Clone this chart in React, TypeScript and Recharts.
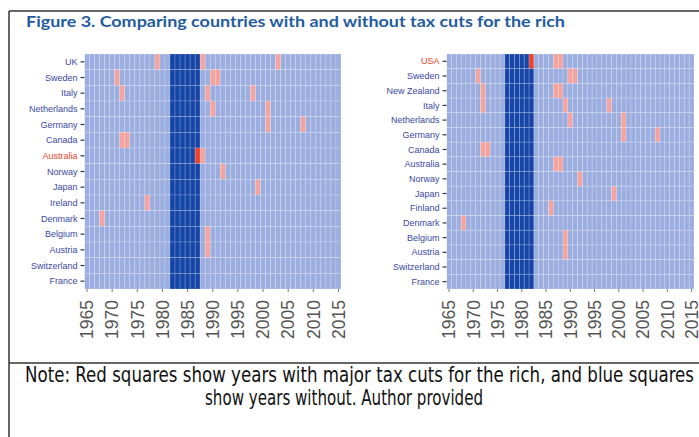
import { Scatter, ScatterChart, XAxis, YAxis } from 'recharts';

const years = [
    1965, 1966, 1967, 1968, 1969, 1970, 1971, 1972, 1973, 1974, 1975, 1976, 1977, 1978, 1979, 1980, 1981,
    1982, 1983, 1984, 1985, 1986, 1987, 1988, 1989, 1990, 1991, 1992, 1993, 1994, 1995, 1996, 1997, 1998,
    1999, 2000, 2001, 2002, 2003, 2004, 2005, 2006, 2007, 2008, 2009, 2010, 2011, 2012, 2013, 2014, 2015,
];
const xTicks = [1965, 1970, 1975, 1980, 1985, 1990, 1995, 2000, 2005, 2010, 2015];

// left panel: Australia against the rest
const leftCountries = [
    'UK', 'Sweden', 'Italy', 'Netherlands', 'Germany', 'Canada', 'Australia', 'Norway',
    'Japan', 'Ireland', 'Denmark', 'Belgium', 'Austria', 'Switzerland', 'France',
];
const leftCutYears = [
    [1979, 1988, 2003], [1971, 1990, 1991], [1972, 1989, 1998], [1990, 2001], [2001, 2008],
    [1972, 1973], [1987, 1988], [1992], [1999], [1977], [1968], [1989], [1989], [], [],
];
const leftBlueYears = [1982, 1983, 1984, 1985, 1986, 1987];
const leftTreated = 'Australia';
const leftTreatedYear = 1987;

// right panel: USA against the rest
const rightCountries = [
    'USA', 'Sweden', 'New Zealand', 'Italy', 'Netherlands', 'Germany', 'Canada', 'Australia',
    'Norway', 'Japan', 'Finland', 'Denmark', 'Belgium', 'Austria', 'Switzerland', 'France',
];
const rightCutYears = [
    [1982, 1987, 1988], [1971, 1990, 1991], [1972, 1987, 1988], [1972, 1989, 1998], [1990, 2001],
    [2001, 2008], [1972, 1973], [1987, 1988], [1992], [1999], [1986], [1968], [1989], [1989], [], [],
];
const rightBlueYears = [1977, 1978, 1979, 1980, 1981, 1982];
const rightTreated = 'USA';
const rightTreatedYear = 1982;

const NONE = '#9caee0';
const BLUE = '#1546a7';
const CUT = '#f4a39f';
const TREATED = '#ef3f28';
const LABEL = '#3a48a6';

const PLOT_TOP = 54;
const PLOT_H = 235;
const CHART_H = 350;

const NOTE_FONT = "'Liberation Sans Narrow', 'Arial Narrow', 'DejaVu Sans Condensed', 'Liberation Sans', sans-serif";

function buildCells(countries: string[], cutYears: number[][], blueYears: number[], treated: string, treatedYear: number) {
    const cells: { year: number; row: number; fill: string }[] = [];
    countries.forEach((c, row) => {
        years.forEach((year) => {
            let fill = NONE;
            if (c === treated && year === treatedYear) fill = TREATED;
            else if (blueYears.includes(year)) fill = BLUE;
            else if (cutYears[row].includes(year)) fill = CUT;
            cells.push({ year, row, fill });
        });
    });
    return cells;
}

interface PanelProps {
    left: number;
    width: number;
    yAxisWidth: number;
    marginRight: number;
    countries: string[];
    cells: { year: number; row: number; fill: string }[];
    treated: string;
}

function Panel({ left, width, yAxisWidth, marginRight, countries, cells, treated }: PanelProps) {
    const plotW = width - yAxisWidth - marginRight;
    const cw = plotW / years.length;
    const ch = PLOT_H / countries.length;
    const rows = countries.map((_, i) => i);

    const CellShape = (p: any) => (
        <rect
            x={p.cx - cw / 2}
            y={p.cy - ch / 2}
            width={cw}
            height={ch}
            fill={p.payload.fill}
            stroke="rgba(255,255,255,0.25)"
            strokeWidth={0.7}
        />
    );

    const YTick = (p: any) => {
        const name = countries[p.payload.value];
        return (
            <text x={p.x} y={p.y} dy="0.35em" textAnchor="end" fontSize={9} fill={name === treated ? TREATED : LABEL}>
                {name}
            </text>
        );
    };

    const XTick = (p: any) => (
        <text
            x={p.x}
            y={p.y}
            dy="0.36em"
            textAnchor="end"
            fontSize={17.5}
            fill="#555"
            transform={`rotate(-90 ${p.x} ${p.y})`}
        >
            {p.payload.value}
        </text>
    );

    return (
        <div style={{ position: 'absolute', left, top: 0 }}>
            <ScatterChart
                width={width}
                height={CHART_H}
                margin={{ top: PLOT_TOP, right: marginRight, bottom: 0, left: 0 }}
                style={{ fontFamily: '"Liberation Sans", Arial, sans-serif' }}
            >
                <XAxis
                    type="number"
                    dataKey="year"
                    domain={[years[0] - 0.5, years[years.length - 1] + 0.5]}
                    ticks={xTicks}
                    interval={0}
                    height={CHART_H - PLOT_TOP - PLOT_H}
                    axisLine={false}
                    tickSize={3}
                    tickMargin={8}
                    tickLine={{ stroke: '#777' }}
                    tick={XTick}
                    allowDataOverflow
                />
                <YAxis
                    type="number"
                    dataKey="row"
                    domain={[-0.5, countries.length - 0.5]}
                    ticks={rows}
                    interval={0}
                    reversed
                    width={yAxisWidth}
                    axisLine={false}
                    tickSize={4}
                    tickMargin={3}
                    tickLine={{ stroke: '#333', strokeWidth: 1.2 }}
                    tick={YTick}
                    allowDataOverflow
                />
                <Scatter data={cells} shape={CellShape} isAnimationActive={false} />
            </ScatterChart>
        </div>
    );
}

export default function App() {
    const leftCells = buildCells(leftCountries, leftCutYears, leftBlueYears, leftTreated, leftTreatedYear);
    const rightCells = buildCells(rightCountries, rightCutYears, rightBlueYears, rightTreated, rightTreatedYear);

    return (
        <div style={{ position: 'absolute', left: 0, top: 0, width: 699, height: 437, overflow: 'hidden', background: '#fff' }}>
            <svg width={699} height={437} style={{ position: 'absolute', left: 0, top: 0 }}>
                <line x1={9} y1={11} x2={699} y2={11} stroke="#333" strokeWidth={1.5} />
                <line x1={9} y1={11} x2={9} y2={437} stroke="#333" strokeWidth={1.5} />
                <line x1={9} y1={363} x2={699} y2={363} stroke="#333" strokeWidth={1.5} />
                <text
                    x={26}
                    y={26.5}
                    fontSize={15.5}
                    fontWeight="bold"
                    fill="#1f5c9e"
                    fontFamily="Lato, 'Open Sans', sans-serif"
                    textLength={539}
                    lengthAdjust="spacingAndGlyphs"
                >
                    Figure 3. Comparing countries with and without tax cuts for the rich
                </text>
                <text
                    x={25}
                    y={382}
                    fontSize={21}
                    fill="#111"
                    fontFamily={NOTE_FONT}
                    textLength={669}
                    lengthAdjust="spacingAndGlyphs"
                >
                    Note: Red squares show years with major tax cuts for the rich, and blue squares
                </text>
                <text
                    x={205}
                    y={405}
                    fontSize={21}
                    fill="#111"
                    fontFamily={NOTE_FONT}
                    textLength={278}
                    lengthAdjust="spacingAndGlyphs"
                >
                    show years without. Author provided
                </text>
            </svg>
            <Panel
                left={0}
                width={350}
                yAxisWidth={84.5}
                marginRight={9}
                countries={leftCountries}
                cells={leftCells}
                treated={leftTreated}
            />
            <Panel
                left={360}
                width={339}
                yAxisWidth={86.6}
                marginRight={5}
                countries={rightCountries}
                cells={rightCells}
                treated={rightTreated}
            />
        </div>
    );
}
